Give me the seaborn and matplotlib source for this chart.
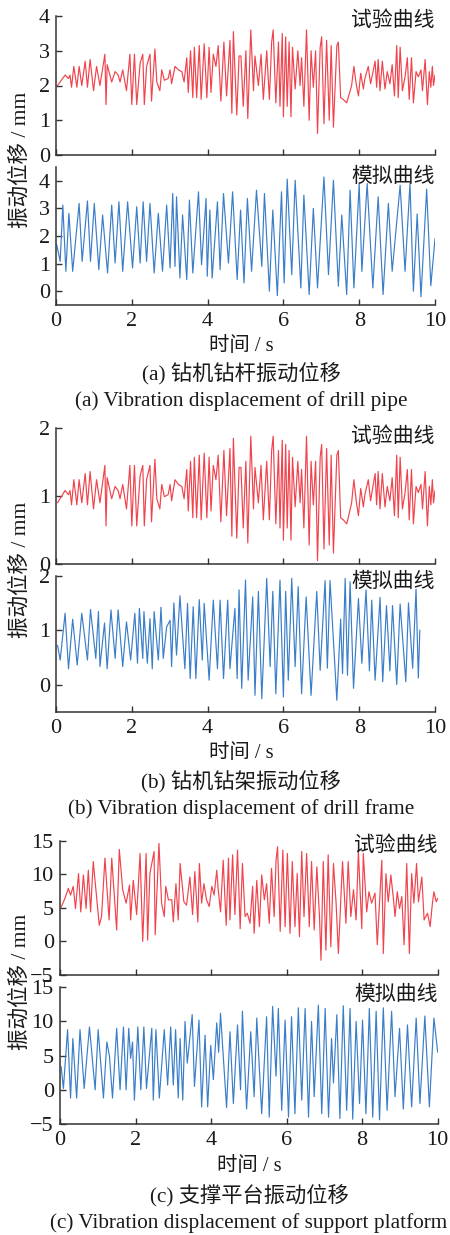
import matplotlib
matplotlib.use('Agg')
import matplotlib.pyplot as plt
import seaborn as sns

# ---------------- data ----------------
# (a) drill pipe / (b) drill frame : experimental curves share the same time stamps
t_ab_exp = [0.04,0.24,0.33,0.37,0.41,0.47,0.55,0.61,0.68,0.77,
            0.83,0.90,0.99,1.07,1.16,1.29,1.32,1.35,1.47,1.56,
            1.64,1.69,1.76,1.86,1.95,2.00,2.07,2.13,2.22,2.29,
            2.33,2.39,2.48,2.52,2.61,2.66,2.74,2.79,2.86,2.96,
            3.01,3.05,3.14,3.23,3.32,3.38,3.45,3.49,3.55,3.61,
            3.65,3.71,3.78,3.83,3.91,3.98,4.04,4.09,4.15,4.22,
            4.28,4.35,4.43,4.50,4.59,4.64,4.68,4.77,4.83,4.88,
            4.94,5.01,5.06,5.14,5.21,5.25,5.34,5.41,5.47,5.56,
            5.63,5.69,5.73,5.80,5.87,5.91,5.97,6.00,6.06,6.10,
            6.15,6.20,6.24,6.31,6.38,6.44,6.48,6.54,6.61,6.68,
            6.73,6.79,6.85,6.90,6.97,7.01,7.07,7.14,7.21,7.26,
            7.32,7.41,7.45,7.51,7.58,7.67,7.71,7.80,7.86,7.92,
            7.98,8.04,8.11,8.15,8.24,8.30,8.42,8.46,8.50,8.55,
            8.61,8.68,8.74,8.81,8.87,8.93,8.99,9.03,9.08,9.14,
            9.21,9.27,9.32,9.38,9.43,9.50,9.56,9.63,9.67,9.74,
            9.80,9.85,9.89,9.93,9.96,10.00]
v_a_exp = [2.0,2.3,2.2,2.3,1.95,2.55,1.95,2.55,2.0,2.7,
           1.95,2.75,1.85,2.55,2.0,2.9,1.45,2.6,2.1,2.4,
           2.3,2.1,2.45,1.85,2.9,1.45,2.9,1.45,2.65,2.9,
           1.45,2.55,2.9,1.55,3.05,2.1,1.85,2.45,2.15,2.2,
           2.45,2.05,2.55,2.45,2.4,2.1,2.8,1.8,3.0,1.65,
           3.1,1.65,3.15,1.6,3.2,1.65,3.1,1.8,2.9,2.55,
           3.15,1.55,3.25,1.7,3.3,1.2,3.55,1.15,2.85,2.85,
           1.4,3.0,1.05,3.6,1.85,2.85,2.0,2.9,1.6,3.0,
           1.6,3.25,3.6,1.5,3.25,1.4,3.5,1.1,3.4,1.4,
           3.25,1.1,3.1,1.9,3.0,2.0,2.8,1.4,3.6,1.0,
           3.0,1.95,3.0,0.62,3.1,3.4,0.9,3.3,1.0,3.15,
           0.8,3.15,3.25,1.65,1.6,1.5,1.65,2.0,2.55,2.05,
           1.7,2.35,1.9,2.2,2.55,2.05,2.7,1.95,2.75,1.85,
           2.7,1.9,2.4,2.05,2.6,1.7,3.15,1.65,3.1,1.85,
           2.25,2.8,1.6,2.8,1.5,2.4,2.25,2.45,1.85,2.75,
           1.45,2.4,1.95,2.55,2.0,2.3]
v_b_exp = [0.90,1.08,1.02,1.08,0.87,1.24,0.87,1.24,0.90,1.33,
           0.87,1.36,0.81,1.24,0.90,1.45,0.56,1.27,0.96,1.14,
           1.08,0.96,1.17,0.81,1.45,0.56,1.45,0.56,1.30,1.45,
           0.56,1.24,1.45,0.62,1.54,0.96,0.81,1.17,0.99,1.02,
           1.17,0.93,1.24,1.17,1.14,0.96,1.39,0.78,1.51,0.68,
           1.57,0.68,1.60,0.65,1.63,0.68,1.57,0.78,1.45,1.24,
           1.60,0.62,1.67,0.71,1.70,0.41,1.85,0.38,1.42,1.42,
           0.53,1.51,0.31,1.88,0.81,1.42,0.90,1.45,0.65,1.51,
           0.65,1.67,1.88,0.59,1.67,0.53,1.82,0.35,1.76,0.53,
           1.67,0.35,1.57,0.84,1.51,0.90,1.39,0.53,1.88,0.28,
           1.51,0.87,1.51,0.05,1.57,1.76,0.22,1.70,0.28,1.60,
           0.16,1.60,1.67,0.68,0.65,0.59,0.68,0.90,1.24,0.93,
           0.71,1.11,0.84,1.02,1.24,0.93,1.33,0.87,1.36,0.81,
           1.33,0.84,1.14,0.93,1.27,0.71,1.60,0.68,1.57,0.81,
           1.05,1.39,0.65,1.39,0.59,1.14,1.05,1.17,0.81,1.36,
           0.56,1.14,0.87,1.24,0.90,1.08]

t_a_sim = [0.02,0.11,0.18,0.26,0.34,0.44,0.61,0.69,0.83,0.91,
           1.01,1.13,1.23,1.36,1.47,1.56,1.66,1.76,1.89,2.02,
           2.13,2.22,2.30,2.39,2.48,2.59,2.70,2.81,2.92,3.01,
           3.08,3.14,3.18,3.27,3.34,3.45,3.52,3.61,3.76,3.84,
           3.96,3.99,4.06,4.12,4.26,4.33,4.42,4.55,4.66,4.78,
           4.87,4.96,5.05,5.16,5.29,5.43,5.50,5.63,5.72,5.84,
           5.95,6.02,6.10,6.22,6.31,6.46,6.54,6.68,6.79,6.90,
           7.07,7.19,7.32,7.45,7.54,7.67,7.76,7.86,8.00,8.07,
           8.21,8.36,8.50,8.63,8.77,8.87,9.08,9.21,9.34,9.43,
           9.53,9.63,9.78,9.89,10.00]
v_a_sim = [1.68,1.08,3.12,0.72,2.82,0.72,3.18,1.08,3.27,1.08,
           3.18,0.78,2.76,0.66,3.12,1.02,3.24,0.72,3.24,0.84,
           3.06,1.02,3.24,1.08,3.18,0.66,2.82,0.72,3.12,0.84,
           3.54,0.90,3.42,0.48,2.76,0.42,3.30,0.66,3.60,0.96,
           3.36,0.54,2.94,0.48,3.24,0.78,3.54,1.02,3.60,0.42,
           2.94,0.30,3.36,0.72,3.66,0.90,3.54,0.00,2.94,-0.16,
           3.60,0.30,4.06,0.60,4.02,0.12,3.48,-0.12,3.00,0.12,
           4.14,0.60,4.02,0.18,2.76,-0.12,3.66,0.12,3.90,0.72,
           3.90,0.12,3.42,-0.12,3.18,0.72,3.84,0.72,3.90,0.00,
           2.80,-0.20,3.70,0.20,1.90]

t_b_sim = [0.04,0.11,0.24,0.33,0.44,0.56,0.68,0.83,0.91,1.05,
           1.12,1.16,1.28,1.35,1.45,1.56,1.64,1.76,1.86,1.97,
           2.08,2.15,2.20,2.29,2.32,2.41,2.48,2.54,2.59,2.70,
           2.77,2.83,2.92,3.01,3.05,3.11,3.18,3.27,3.40,3.47,
           3.54,3.62,3.69,3.78,3.86,3.91,4.04,4.15,4.26,4.33,
           4.42,4.53,4.59,4.72,4.78,4.83,4.90,5.00,5.07,5.19,
           5.25,5.34,5.43,5.56,5.65,5.72,5.80,5.91,6.00,6.06,
           6.13,6.22,6.31,6.39,6.48,6.60,6.73,6.88,6.97,7.10,
           7.16,7.23,7.41,7.51,7.56,7.63,7.69,7.76,7.85,7.98,
           8.07,8.18,8.27,8.33,8.42,8.55,8.62,8.72,8.81,8.88,
           8.99,9.08,9.23,9.30,9.41,9.50,9.56,9.60]
v_b_sim = [0.72,0.45,1.31,0.29,1.20,0.36,1.31,0.45,1.38,0.48,
           1.34,0.33,1.13,0.29,1.37,0.48,1.37,0.33,1.15,0.45,
           1.31,0.39,1.40,0.48,1.34,0.39,1.21,0.29,1.34,0.45,
           1.42,0.48,1.06,1.18,0.33,1.50,0.54,1.63,0.29,1.49,
           0.11,1.43,0.11,1.56,0.45,1.49,0.08,1.55,0.29,1.55,
           0.11,1.55,0.29,1.40,0.11,1.74,-0.07,1.92,0.08,1.61,
           -0.20,1.71,-0.26,1.95,0.33,1.71,-0.17,1.92,-0.23,1.71,
           0.08,1.95,0.33,1.80,-0.17,1.61,-0.20,1.71,0.26,1.91,
           0.30,1.91,-0.29,1.20,0.20,1.95,0.17,1.89,-0.07,1.58,
           0.39,1.74,0.25,1.55,0.08,1.60,0.05,1.45,0.25,1.45,
           0.00,1.48,0.05,1.50,0.30,1.75,0.12,1.00]

# (c) support platform
t_c_exp = [0.03,0.13,0.22,0.28,0.35,0.41,0.49,0.55,0.62,0.69,
           0.75,0.81,0.88,1.04,1.10,1.19,1.30,1.37,1.50,1.57,
           1.66,1.75,1.84,1.87,1.94,2.03,2.12,2.19,2.28,2.32,
           2.38,2.49,2.52,2.62,2.69,2.76,2.80,2.87,2.96,3.00,
           3.07,3.13,3.18,3.28,3.35,3.44,3.51,3.57,3.65,3.69,
           3.75,3.81,3.88,3.95,4.02,4.08,4.15,4.19,4.25,4.32,
           4.40,4.46,4.50,4.57,4.63,4.70,4.77,4.83,4.90,4.96,
           5.03,5.10,5.14,5.21,5.28,5.34,5.41,5.47,5.54,5.60,
           5.67,5.72,5.76,5.83,5.90,5.96,6.02,6.09,6.15,6.22,
           6.28,6.34,6.40,6.46,6.53,6.60,6.66,6.73,6.80,6.87,
           6.91,6.97,7.04,7.10,7.17,7.24,7.31,7.37,7.48,7.57,
           7.63,7.70,7.77,7.84,7.90,7.99,8.03,8.12,8.18,8.25,
           8.34,8.40,8.46,8.52,8.56,8.63,8.69,8.76,8.83,8.87,
           8.93,8.99,9.05,9.11,9.18,9.25,9.31,9.37,9.44,9.49,
           9.58,9.64,9.73,9.80,9.86,9.90,9.96,10.00]
v_c_exp = [5.1,6.4,7.9,6.9,8.2,4.9,10.1,4.4,9.9,4.9,
           10.6,4.4,11.9,2.4,3.7,12.4,3.2,12.4,1.7,13.7,
           7.7,5.7,8.4,3.2,9.1,4.0,13.1,0.0,13.1,0.2,
           10.1,13.4,1.0,14.6,5.7,3.7,8.2,6.2,6.2,2.9,
           8.6,3.2,11.6,5.9,5.4,9.6,4.0,10.4,2.9,11.6,
           5.7,8.6,6.2,5.2,8.2,6.9,10.6,7.7,4.4,12.1,
           2.4,12.4,3.2,12.9,4.0,13.6,1.9,11.6,3.7,4.2,
           2.7,8.2,1.2,9.1,2.2,9.9,6.2,8.6,2.7,10.9,
           3.7,12.1,14.1,1.5,13.6,2.2,13.1,1.2,11.9,2.2,
           10.1,0.7,13.4,3.7,13.1,2.2,11.9,1.7,11.1,3.7,
           -2.8,11.9,-1.3,12.9,-0.8,11.6,5.7,-1.8,11.9,2.7,
           11.9,3.7,7.7,3.2,13.4,1.9,13.1,4.4,7.4,5.7,
           7.2,-0.5,5.7,12.1,-1.8,10.1,5.9,9.9,6.2,3.7,
           7.4,4.9,6.7,-0.5,11.6,-1.8,10.1,5.7,11.6,5.9,
           9.6,3.2,4.2,2.2,5.7,7.4,5.9,6.4]

t_c_sim = [0.03,0.09,0.20,0.28,0.34,0.44,0.53,0.64,0.78,0.93,
           1.01,1.15,1.24,1.31,1.39,1.50,1.59,1.68,1.75,1.82,
           1.87,1.92,1.97,2.06,2.14,2.22,2.29,2.43,2.47,2.54,
           2.63,2.76,2.85,2.93,3.00,3.06,3.13,3.18,3.25,3.31,
           3.37,3.50,3.56,3.68,3.75,3.84,3.91,3.99,4.06,4.15,
           4.20,4.25,4.41,4.50,4.59,4.70,4.78,4.83,4.94,5.05,
           5.14,5.21,5.34,5.47,5.54,5.63,5.72,5.78,5.87,5.96,
           6.05,6.13,6.22,6.31,6.40,6.49,6.58,6.66,6.73,6.84,
           6.93,7.02,7.11,7.19,7.24,7.33,7.41,7.50,7.59,7.68,
           7.75,7.84,7.93,8.01,8.10,8.19,8.28,8.37,8.46,8.56,
           8.66,8.78,8.87,8.99,9.09,9.20,9.31,9.43,9.53,9.66,
           9.78,9.90,10.00]
v_c_sim = [3.4,0.2,8.8,-1.2,7.5,-1.2,8.8,0.2,9.2,0.0,
           8.8,-1.2,7.0,4.9,-1.2,9.0,0.0,9.2,0.0,9.0,
           4.6,7.0,-1.5,9.2,0.0,9.2,0.2,9.0,-1.5,8.8,
           -1.2,8.8,0.7,9.2,0.7,8.8,-1.2,7.5,-1.5,10.0,
           3.9,11.0,0.5,10.2,-2.5,8.0,-2.5,6.5,1.5,9.8,
           5.5,11.2,-2.6,8.5,-2.0,9.5,0.0,11.5,-2.8,8.5,
           -1.0,10.5,-3.5,10.7,-4.0,12.2,2.0,11.9,-3.0,10.2,
           -4.0,10.7,-3.5,12.0,-1.5,11.9,-4.0,10.0,-1.0,12.4,
           -3.5,11.9,-4.0,7.5,1.0,11.0,-4.2,12.3,-3.0,11.9,
           -4.3,10.0,-2.0,10.2,-3.5,11.9,-4.0,11.5,-4.4,12.0,
           -3.0,11.5,-1.0,9.0,-2.8,9.5,-2.5,10.5,-2.0,10.8,
           -2.5,10.5,5.5]

x_ticks = [0, 2, 4, 6, 8, 10]
label_exp = "试验曲线"
label_sim = "模拟曲线"
x_label = "时间 / s"
y_label = "振动位移 / mm"
captions_cn = ["(a) 钻机钻杆振动位移", "(b) 钻机钻架振动位移", "(c) 支撑平台振动位移"]
captions_en = ["(a) Vibration displacement of drill pipe",
               "(b) Vibration displacement of drill frame",
               "(c) Vibration displacement of support platform"]

# ---------------- style ----------------
sns.set_theme(style="ticks")
FAM = ["Liberation Serif", "Noto Sans CJK SC", "DejaVu Sans"]
plt.rcParams["font.family"] = FAM
plt.rcParams["axes.unicode_minus"] = True

RED = "#f0434d"
BLUE = "#3a7dc8"
SPINE = "#333333"
TXT = "#1a1a1a"
FS_TICK = 16
FS_TAG = 15
FS_XL = 14.7
FS_YL = 15.5
FS_CAP = 15.3

W, H = 450, 1235
fig = plt.figure(figsize=(W / 100, H / 100), dpi=100)


def rect(l, t, r, b):
    return [l / W, 1 - b / H, (r - l) / W, (b - t) / H]


def panel(box, t, v, color, ylim, yticks, tag, show_xlabels, tag_dy):
    ax = fig.add_axes(rect(*box))
    sns.lineplot(x=t, y=v, ax=ax, color=color, linewidth=0.85,
                 estimator=None, sort=False, legend=False)
    ax.set_xlim(0, 10)
    ax.set_ylim(*ylim)
    ax.set_xticks(x_ticks)
    ax.set_yticks(yticks)
    for s in ["top", "right"]:
        ax.spines[s].set_visible(False)
    for s in ["left", "bottom"]:
        ax.spines[s].set_color(SPINE)
        ax.spines[s].set_linewidth(1.1)
    ax.tick_params(direction="in", length=4.5, width=1.0, colors=SPINE,
                   labelcolor=TXT, labelsize=FS_TICK)
    ax.tick_params(axis="y", pad=4.5)
    ax.tick_params(axis="x", pad=5)
    ax.tick_params(labelbottom=show_xlabels)
    ax.set_xlabel("")
    ax.set_ylabel("")
    for lab in ax.get_xticklabels() + ax.get_yticklabels():
        lab.set_family(FAM)
    hpx = box[3] - box[1]
    ax.text(1.0, 1 - tag_dy / hpx, tag, transform=ax.transAxes, ha="right",
            va="center", fontsize=FS_TAG, color=TXT, family=FAM)
    return ax


groups = [
    dict(l=56, r=435, top=(16, 155), bot=(167, 305),
         exp=(t_ab_exp, v_a_exp), sim=(t_a_sim, v_a_sim),
         ylim_top=(0, 4), ylim_bot=(-0.5, 4.5), yt=[0, 1, 2, 3, 4],
         dy=(5, 10), xl=346.7, cn=373, en=400.7, ylab=160, cx=241),
    dict(l=56, r=435, top=(428, 564), bot=(575.7, 711.7),
         exp=(t_ab_exp, v_b_exp), sim=(t_b_sim, v_b_sim),
         ylim_top=(0, 2), ylim_bot=(-0.5, 2), yt=[0, 1, 2],
         dy=(9, 7), xl=753, cn=781.7, en=809, ylab=570, cx=241),
    dict(l=60, r=437.7, top=(840.7, 975), bot=(987.3, 1124),
         exp=(t_c_exp, v_c_exp), sim=(t_c_sim, v_c_sim),
         ylim_top=(-5, 15), ylim_bot=(-5, 15), yt=[-5, 0, 5, 10, 15],
         dy=(5, 8), xl=1166.7, cn=1195, en=1223, ylab=982, cx=249),
]

for i, g in enumerate(groups):
    panel((g["l"], g["top"][0], g["r"], g["top"][1]), *g["exp"], RED,
          g["ylim_top"], g["yt"], label_exp, False, g["dy"][0])
    panel((g["l"], g["bot"][0], g["r"], g["bot"][1]), *g["sim"], BLUE,
          g["ylim_bot"], g["yt"], label_sim, True, g["dy"][1])
    fig.text(g["cx"] / W, 1 - g["xl"] / H, x_label, ha="center", va="center",
             fontsize=FS_XL, family=FAM, color=TXT)
    fig.text(g["cx"] / W, 1 - g["cn"] / H, captions_cn[i], ha="center",
             va="center", fontsize=FS_CAP, family=FAM, color=TXT)
    fig.text(g["cx"] / W, 1 - g["en"] / H, captions_en[i], ha="center",
             va="center", fontsize=FS_CAP, family=FAM, color=TXT)
    fig.text(21 / W, 1 - g["ylab"] / H, y_label, ha="center", va="center",
             rotation=90, fontsize=FS_YL, family=FAM, color=TXT)

fig.savefig("out.png", dpi=100, facecolor="white")
